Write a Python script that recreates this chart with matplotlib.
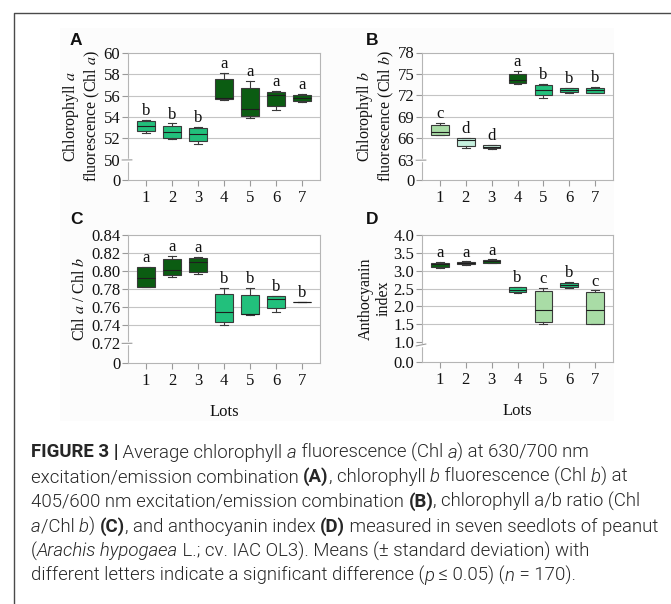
import numpy as np
import matplotlib
matplotlib.use('Agg')
import matplotlib.pyplot as plt
from matplotlib.patches import Rectangle
from matplotlib.lines import Line2D
from matplotlib.ticker import FixedLocator, FixedFormatter

plt.rcParams['mathtext.fontset'] = 'stix'
plt.rcParams['font.family'] = ['Liberation Serif', 'DejaVu Serif']

lots = [1, 2, 3, 4, 5, 6, 7]

# Panel A: Chlorophyll a fluorescence
a_q1 = [52.7, 52.06, 51.75, 55.71, 54.13, 55.0, 55.49]
a_med = [53.17, 52.63, 52.38, 55.78, 54.76, 56.03, 55.78]
a_q3 = [53.65, 53.17, 52.95, 57.52, 56.76, 56.35, 56.03]
a_lo = [52.5, 51.9, 51.52, 55.6, 53.9, 54.67, 55.43]
a_hi = [53.75, 53.4, 53.1, 58.16, 57.4, 56.44, 56.19]
a_letters = ['b', 'b', 'b', 'a', 'a', 'a', 'a']
a_ticks = [0, 50, 52, 54, 56, 58, 60]
a_ticklabels = ['0', '50', '52', '54', '56', '58', '60']

# Panel B: Chlorophyll b fluorescence
b_q1 = [66.54, 64.9, 64.62, 73.73, 72.0, 72.46, 72.4]
b_med = [66.97, 65.75, 64.8, 74.2, 72.7, 72.74, 72.8]
b_q3 = [67.86, 66.07, 65.04, 75.04, 73.45, 73.0, 73.1]
b_lo = [66.45, 64.7, 64.57, 73.6, 71.66, 72.38, 72.32]
b_hi = [68.14, 66.1, 65.1, 75.4, 73.6, 73.05, 73.18]
b_letters = ['c', 'd', 'd', 'a', 'b', 'b', 'b']
b_ticks = [0, 63, 66, 69, 72, 75, 78]
b_ticklabels = ['0', '63', '66', '69', '72', '75', '78']

# Panel C: Chl a / Chl b
c_q1 = [0.7828, 0.7953, 0.7994, 0.744, 0.7522, 0.7588, 0.7655]
c_med = [0.7928, 0.8013, 0.8101, 0.7544, 0.7525, 0.7691, 0.7658]
c_q3 = [0.8042, 0.8134, 0.8145, 0.7743, 0.7736, 0.7721, 0.7661]
c_lo = [0.782, 0.7931, 0.7968, 0.7404, 0.7507, 0.7544, 0.7655]
c_hi = [0.805, 0.8168, 0.816, 0.7817, 0.7817, 0.7728, 0.7661]
c_letters = ['a', 'a', 'a', 'b', 'b', 'b', 'b']
c_ticks = [0, 0.72, 0.74, 0.76, 0.78, 0.80, 0.82, 0.84]
c_ticklabels = ['0', '0.72', '0.74', '0.76', '0.78', '0.80', '0.82', '0.84']

# Panel D: Anthocyanin index
d_q1 = [3.093, 3.187, 3.224, 2.40, 1.55, 2.54, 1.51]
d_med = [3.18, 3.215, 3.262, 2.467, 1.897, 2.60, 1.897]
d_q3 = [3.224, 3.243, 3.30, 2.53, 2.42, 2.66, 2.39]
d_lo = [3.065, 3.17, 3.21, 2.38, 1.51, 2.51, 1.50]
d_hi = [3.25, 3.26, 3.32, 2.55, 2.52, 2.69, 2.45]
d_letters = ['a', 'a', 'a', 'b', 'c', 'b', 'c']
d_ticks = [0, 1.0, 1.5, 2.0, 2.5, 3.0, 3.5, 4.0]
d_ticklabels = ['0.0', '1.0', '1.5', '2.0', '2.5', '3.0', '3.5', '4.0']

DARK = '#0b5c12'
MED = '#22c07c'
LIGHT = '#a9dca6'
PALE = '#c6f0de'

W, H = 671, 604
fig = plt.figure(figsize=(W / 100, H / 100), dpi=100)
renderer = fig.canvas.get_renderer()


def fx(x):
    return x / W


def fy(y):
    return 1 - y / H


# faint background of the figure panel
fig.patches.append(Rectangle((fx(60), fy(421)), (614 - 60) / W, (421 - 28) / H,
                             transform=fig.transFigure, facecolor='#fcfcfc',
                             edgecolor='none', zorder=-10))
# outer frame (top and left lines)
fig.lines.append(Line2D([fx(13.5), fx(13.5), fx(671)], [fy(604), fy(12.5), fy(12.5)],
                        transform=fig.transFigure, color='#4a4a4a', lw=1.0))


def make_scale(lo, gap):
    def fwd(v):
        v = np.asarray(v, dtype=float)
        return np.where(v >= lo, v, lo - gap * (lo - v) / lo)

    def inv(u):
        u = np.asarray(u, dtype=float)
        return np.where(u >= lo, u, lo - (lo - u) * lo / gap)
    return fwd, inv


def panel(rect, q1, med, q3, lo_w, hi_w, letters, colors, ticks, ticklabels,
          brk, gap, ylabel, labelpad, xlabel=None):
    ax = fig.add_axes(rect)
    fwd, inv = make_scale(brk, gap)
    ax.set_yscale('function', functions=(fwd, inv))
    stats = []
    for i in range(len(lots)):
        stats.append(dict(med=med[i], q1=q1[i], q3=q3[i], whislo=lo_w[i],
                          whishi=hi_w[i], fliers=[], label=str(lots[i])))
    res = ax.bxp(stats, positions=lots, widths=0.68, capwidths=0.3,
                 patch_artist=True, showfliers=False,
                 boxprops=dict(edgecolor='#3a3a3a', linewidth=0.8),
                 medianprops=dict(color='#1e1e1e', linewidth=0.8),
                 whiskerprops=dict(color='#3a3a3a', linewidth=0.8),
                 capprops=dict(color='#3a3a3a', linewidth=0.8))
    for b, c in zip(res['boxes'], colors):
        b.set_facecolor(c)
        b.set_zorder(3)
    for k in ('medians', 'whiskers', 'caps'):
        for l in res[k]:
            l.set_zorder(4)
    ax.set_xlim(0.31, 7.69)
    ax.set_ylim(ticks[0], ticks[-1])
    ax.yaxis.set_major_locator(FixedLocator(ticks))
    ax.yaxis.set_major_formatter(FixedFormatter(ticklabels))
    ax.yaxis.set_minor_locator(FixedLocator([]))
    ax.set_xticks(lots)
    ax.set_xticklabels([str(v) for v in lots])
    for v in ticks[2:-1]:
        ax.axhline(v, color='#c4c4c4', lw=0.8, zorder=1)
    for s in ax.spines.values():
        s.set_color('#b5b5b5')
        s.set_linewidth(0.8)
    ax.tick_params(axis='both', colors='#9a9a9a', length=4, width=0.8,
                   labelsize=12, labelcolor='#111111')
    ax.tick_params(axis='y', pad=1.5)
    ax.tick_params(axis='x', pad=3)
    for x, h, t in zip(lots, hi_w, letters):
        ax.annotate(t, (x, h), xytext=(0, 0.5), textcoords='offset points',
                    ha='center', va='bottom', fontsize=12, color='#111111')
    # axis break mark
    yb = brk - gap * 0.3
    ax.plot([-0.025, 0.0, 0.025], [yb, yb, yb], color='white', lw=2.5,
            transform=ax.get_yaxis_transform(), clip_on=False, zorder=5)
    ax.plot([-0.03, 0.02], [yb - gap * 0.05, yb + gap * 0.12], color='#9a9a9a',
            lw=0.8, transform=ax.get_yaxis_transform(), clip_on=False, zorder=6)
    ax.set_ylabel(ylabel, fontsize=11.5, labelpad=labelpad, linespacing=1.15,
                  color='#111111')
    if xlabel:
        ax.set_xlabel(xlabel, fontsize=12, labelpad=11, color='#111111')
    return ax


panel([fx(128), fy(180), (320 - 128) / W, (180 - 53) / H],
      a_q1, a_med, a_q3, a_lo, a_hi, a_letters,
      [MED, MED, MED, DARK, DARK, DARK, DARK], a_ticks, a_ticklabels,
      50, 1.9, 'Chlorophyll $a$\nfluorescence (Chl $a$)', 1.0)
panel([fx(422), fy(180), (613 - 422) / W, (180 - 52.5) / H],
      b_q1, b_med, b_q3, b_lo, b_hi, b_letters,
      [LIGHT, PALE, PALE, DARK, MED, MED, MED], b_ticks, b_ticklabels,
      63, 2.8, 'Chlorophyll $b$\nfluorescence (Chl $b$)', 1.0)
panel([fx(128), fy(363), (320 - 128) / W, (363 - 235) / H],
      c_q1, c_med, c_q3, c_lo, c_hi, c_letters,
      [DARK, DARK, DARK, MED, MED, MED, MED], c_ticks, c_ticklabels,
      0.72, 0.022, 'Chl $a$ / Chl $b$', 2.5, xlabel='Lots')
panel([fx(422), fy(362), (613 - 422) / W, (362 - 235) / H],
      d_q1, d_med, d_q3, d_lo, d_hi, d_letters,
      [DARK, DARK, DARK, MED, LIGHT, MED, LIGHT], d_ticks, d_ticklabels,
      1.0, 0.56, 'Anthocyanin\nindex', 1.5, xlabel='Lots')

# panel letters
for lab, x, y in [('A', 70, 45), ('B', 366, 45), ('C', 70, 224), ('D', 366, 224)]:
    fig.text(fx(x), fy(y), lab, fontsize=12.5, fontweight='bold',
             family='Liberation Sans', va='baseline', ha='left', color='#111111')

# caption
CAP_FONT = ['Roboto', 'DejaVu Sans']
STY = {'n': ('normal', 300), 'i': ('italic', 300), 'b': ('normal', 'bold')}
caption = [
    [("FIGURE 3 |", 'b'), (" Average chlorophyll ", 'n'), ("a", 'i'),
     (" fluorescence (Chl ", 'n'), ("a", 'i'), (") at 630/700 nm", 'n')],
    [("excitation/emission combination ", 'n'), ("(A)", 'b'), (", chlorophyll ", 'n'),
     ("b", 'i'), (" fluorescence (Chl ", 'n'), ("b", 'i'), (") at", 'n')],
    [("405/600 nm excitation/emission combination ", 'n'), ("(B)", 'b'),
     (", chlorophyll a/b ratio (Chl", 'n')],
    [("a", 'i'), ("/Chl ", 'n'), ("b", 'i'), (") ", 'n'), ("(C)", 'b'),
     (", and anthocyanin index ", 'n'), ("(D)", 'b'),
     (" measured in seven seedlots of peanut", 'n')],
    [("(", 'n'), ("Arachis hypogaea", 'i'),
     (" L.; cv. IAC OL3). Means (\u00b1 standard deviation) with", 'n')],
    [("different letters indicate a significant difference (", 'n'), ("p", 'i'),
     (" \u2264 0.05) (", 'n'), ("n", 'i'), (" = 170).", 'n')],
]
line_ends = np.array([605, 582, 630, 621, 566, 544], float)


def piece_width(txt, sty, size):
    st, wt = STY[sty]
    t = fig.text(0, 0, txt + '|', fontsize=size, family=CAP_FONT, style=st, weight=wt)
    w1 = t.get_window_extent(renderer).width
    t.set_text('|')
    w2 = t.get_window_extent(renderer).width
    t.remove()
    return w1 - w2


base = 12.0
ws = np.array([sum(piece_width(t, s, base) for t, s in line) for line in caption])
cap_size = base * (ws[1:] * line_ends[1:]).sum() / (ws[1:] * ws[1:]).sum()

for i, line in enumerate(caption):
    x = 31.0
    yb = 457.5 + 24.7 * i
    for txt, sty in line:
        st, wt = STY[sty]
        fig.text(fx(x), fy(yb), txt, fontsize=cap_size, family=CAP_FONT, style=st,
                 weight=wt, va='baseline', ha='left', color='#262626')
        x += piece_width(txt, sty, cap_size)

fig.savefig('out.png', dpi=100)
